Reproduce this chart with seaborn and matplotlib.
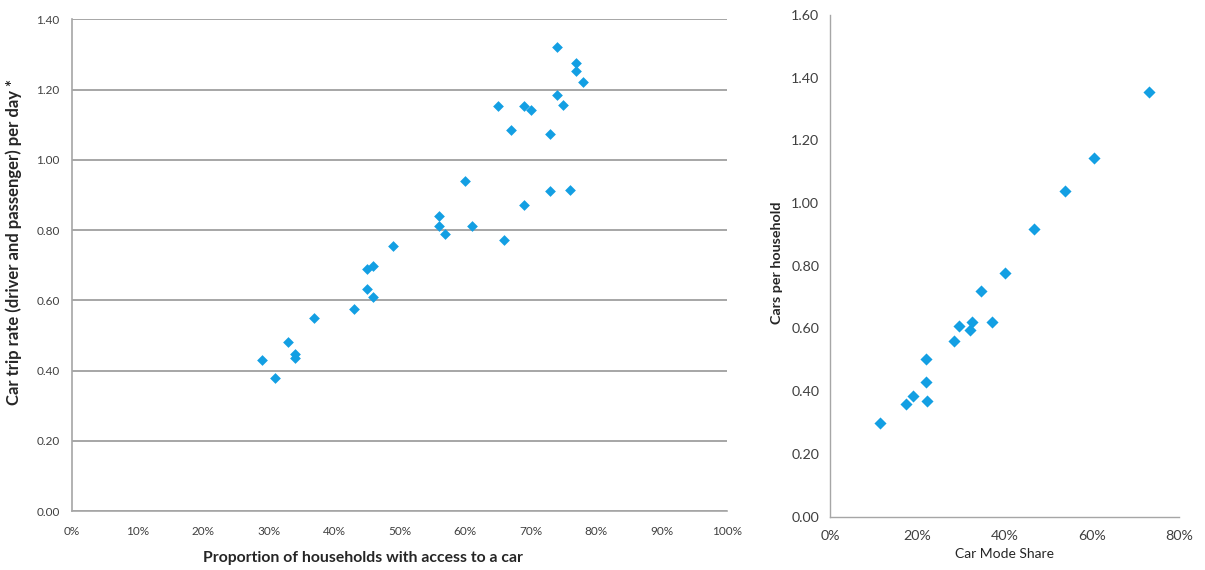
import numpy as np
import pandas as pd
import matplotlib
matplotlib.use('Agg')
import matplotlib.pyplot as plt
import seaborn as sns
from matplotlib.ticker import PercentFormatter, FormatStrFormatter

# left panel: car access vs car trip rate
access_pct = [29, 31, 33, 34, 34, 37, 43, 45, 46, 45, 46, 49, 56, 56, 57, 60, 61, 66,
              65, 67, 69, 70, 69, 73, 73, 74, 74, 75, 76, 77, 77, 78]
trip_rate = [0.43, 0.38, 0.48, 0.447, 0.435, 0.549, 0.575, 0.688, 0.697, 0.632, 0.609,
             0.754, 0.839, 0.811, 0.788, 0.939, 0.811, 0.771, 1.152, 1.084, 1.152,
             1.141, 0.871, 1.073, 0.910, 1.320, 1.186, 1.155, 0.913, 1.277, 1.252, 1.221]

# right panel: car mode share vs cars per household
mode_share = [73.1, 60.4, 53.8, 46.6, 40.1, 34.5, 29.4, 32.5, 32.1, 37.1, 28.4,
              21.9, 21.9, 22.1, 19.0, 17.4, 11.5]
cars_per_hh = [1.353, 1.143, 1.040, 0.918, 0.778, 0.721, 0.609, 0.622, 0.594, 0.620,
               0.561, 0.504, 0.430, 0.368, 0.386, 0.358, 0.299]

left_yticks = [0.0, 0.2, 0.4, 0.6, 0.8, 1.0, 1.2, 1.4]
left_xticks = list(range(0, 101, 10))
right_yticks = [0.0, 0.2, 0.4, 0.6, 0.8, 1.0, 1.2, 1.4, 1.6]
right_xticks = [0, 20, 40, 60, 80]

BLUE = '#139fe3'
AXIS_GREY = '#a6a6a6'
TICK_TXT = '#404040'

sns.set_style('white')
plt.rcParams['font.family'] = ['Lato', 'DejaVu Sans']

fig = plt.figure(figsize=(12.05, 5.70), dpi=100)
ax1 = fig.add_axes([0.0598, 0.1035, 0.5435, 0.8625])
ax2 = fig.add_axes([0.689, 0.0937, 0.2897, 0.88])

df_left = pd.DataFrame({'access': access_pct, 'rate': trip_rate})
df_right = pd.DataFrame({'share': mode_share, 'cars': cars_per_hh})

# ---- left panel
sns.scatterplot(data=df_left, x='access', y='rate', ax=ax1, marker='D', s=30,
                color=BLUE, linewidth=0, zorder=3)
ax1.set_xlim(0, 100)
ax1.set_ylim(0, 1.4)
ax1.set_xticks(left_xticks)
ax1.set_yticks(left_yticks)
ax1.xaxis.set_major_formatter(PercentFormatter(decimals=0))
ax1.yaxis.set_major_formatter(FormatStrFormatter('%.2f'))
ax1.yaxis.grid(True, color=AXIS_GREY, linewidth=1.4)
ax1.set_axisbelow(True)
for side in ['top', 'right']:
    ax1.spines[side].set_visible(False)
for side in ['left', 'bottom']:
    ax1.spines[side].set_color(AXIS_GREY)
    ax1.spines[side].set_linewidth(1.2)
ax1.tick_params(axis='both', which='major', direction='out', length=4, width=1,
                color=AXIS_GREY, labelsize=8.5, labelcolor=TICK_TXT, pad=5)
ax1.tick_params(axis='x', pad=7)
ax1.set_xlabel('Proportion of households with access to a car', fontsize=11.3,
               fontweight='bold', color='#262626')
ax1.set_ylabel('Car trip rate (driver and passenger) per day *', fontsize=12,
               fontweight='bold', color='#262626')
ax1.xaxis.set_label_coords(0.444, -0.082)
ax1.yaxis.set_label_coords(-0.076, 0.547)

# ---- right panel
sns.scatterplot(data=df_right, x='share', y='cars', ax=ax2, marker='D', s=38,
                color=BLUE, linewidth=0, zorder=3)
ax2.set_xlim(0, 80)
ax2.set_ylim(0, 1.6)
ax2.set_xticks(right_xticks)
ax2.set_yticks(right_yticks)
ax2.xaxis.set_major_formatter(PercentFormatter(decimals=0))
ax2.yaxis.set_major_formatter(FormatStrFormatter('%.2f'))
for side in ['top', 'right']:
    ax2.spines[side].set_visible(False)
for side in ['left', 'bottom']:
    ax2.spines[side].set_color(AXIS_GREY)
    ax2.spines[side].set_linewidth(1.0)
ax2.tick_params(axis='both', which='major', direction='out', length=3, width=1,
                color=AXIS_GREY, labelsize=10.3, labelcolor=TICK_TXT, pad=5)
ax2.tick_params(axis='x', pad=7)
ax2.set_xlabel('Car Mode Share', fontsize=10, color='#262626')
ax2.set_ylabel('Cars per household', fontsize=10.3, fontweight='bold',
               color='#262626')
ax2.xaxis.set_label_coords(0.5, -0.063)
ax2.yaxis.set_label_coords(-0.135, 0.506)

fig.savefig('out.png', dpi=100)
plt.close(fig)
